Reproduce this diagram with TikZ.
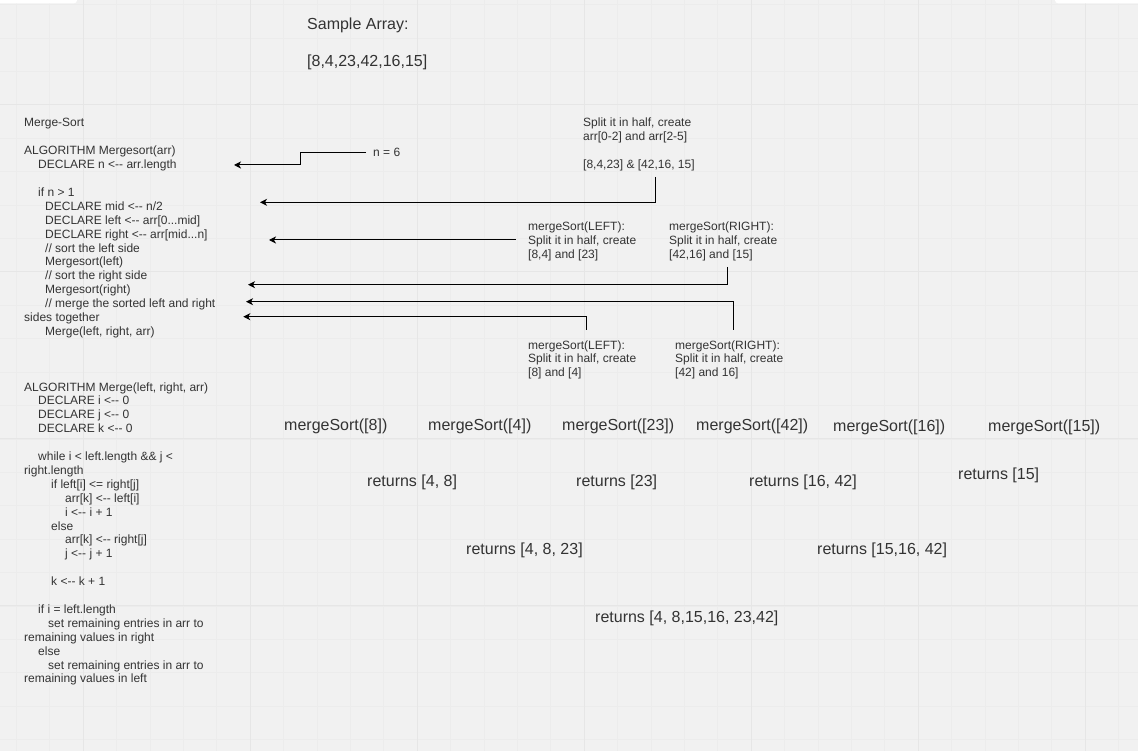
\documentclass[tikz,border=0pt]{standalone}
\usepackage{fontspec}
\setmainfont{Liberation Sans}
\usetikzlibrary{arrows.meta}
\definecolor{canvas}{RGB}{241,241,241}
\definecolor{gridminor}{RGB}{236,236,236}
\definecolor{gridmajor}{RGB}{230,230,230}
\definecolor{ink}{RGB}{51,51,51}
\newcommand{\asg}{<-{}-}
\newcommand{\txtlines}[1]{\begin{tabular}[t]{@{}l@{}}#1\end{tabular}}
\begin{document}
\begin{tikzpicture}[
  x=1pt, y=-1pt,
  every node/.style={inner sep=0pt, anchor=base west, text=ink},
  small/.style={font=\fontsize{12}{13.9}\selectfont},
  big/.style={font=\fontsize{16}{19}\selectfont},
  flow/.style={draw=black, line width=1pt, -{Stealth[length=7pt, width=7pt, inset=2pt]}}
]
  % canvas and grid
  \clip (0,0) rectangle (1138,751);
  \fill[canvas] (0,0) rectangle (1138,751);
  \foreach \k in {0,...,33}
    \draw[gridminor, line width=1pt] ({16.5+33.4*\k},0) -- ({16.5+33.4*\k},751);
  \foreach \k in {0,...,22}
    \draw[gridminor, line width=1pt] (0,{4.8+33.4*\k}) -- (1138,{4.8+33.4*\k});
  \foreach \k in {0,...,6}
    \draw[gridmajor, line width=1pt] ({83.3+167*\k},0) -- ({83.3+167*\k},751);
  \foreach \k in {0,...,3}
    \draw[gridmajor, line width=1pt] (0,{104.5+167*\k}) -- (1138,{104.5+167*\k});
  \fill[white, rounded corners=3pt] (-10,-10) rectangle (77,3.3);
  \fill[white, rounded corners=3pt] (1055,-10) rectangle (1150,3.3);

  % sample input
  \node[big] (title) at (307,29.7) {Sample Array:};
  \node[big] (sample) at (307,66.7) {[8,4,23,42,16,15]};

  % pseudocode
  \node[small] (pseudo) at (24,127) {\txtlines{%
    Merge-Sort\\
    \\
    ALGORITHM Mergesort(arr)\\
    \hspace*{14pt}DECLARE n \asg{} arr.length\\
    \\
    \hspace*{14pt}if n > 1\\
    \hspace*{21pt}DECLARE mid \asg{} n/2\\
    \hspace*{21pt}DECLARE left \asg{} arr[0...mid]\\
    \hspace*{21pt}DECLARE right \asg{} arr[mid...n]\\
    \hspace*{21pt}// sort the left side\\
    \hspace*{21pt}Mergesort(left)\\
    \hspace*{21pt}// sort the right side\\
    \hspace*{21pt}Mergesort(right)\\
    \hspace*{21pt}// merge the sorted left and right\\
    sides together\\
    \hspace*{21pt}Merge(left, right, arr)\\
    \\
    \\
    \\
    ALGORITHM Merge(left, right, arr)\\
    \hspace*{14pt}DECLARE i \asg{} 0\\
    \hspace*{14pt}DECLARE j \asg{} 0\\
    \hspace*{14pt}DECLARE k \asg{} 0\\
    \\
    \hspace*{14pt}while i < left.length \&\& j <\\
    right.length\\
    \hspace*{27pt}if left[i] <= right[j]\\
    \hspace*{41pt}arr[k] \asg{} left[i]\\
    \hspace*{41pt}i \asg{} i + 1\\
    \hspace*{27pt}else\\
    \hspace*{41pt}arr[k] \asg{} right[j]\\
    \hspace*{41pt}j \asg{} j + 1\\
    \\
    \hspace*{27pt}k \asg{} k + 1\\
    \\
    \hspace*{14pt}if i = left.length\\
    \hspace*{24pt}set remaining entries in arr to\\
    remaining values in right\\
    \hspace*{14pt}else\\
    \hspace*{24pt}set remaining entries in arr to\\
    remaining values in left}};

  % notes on the split steps
  \node[small] (nsize) at (373,156.3) {n = 6};
  \node[small] (split) at (583,126.8) {\txtlines{%
    Split it in half, create\\
    arr[0-2] and arr[2-5]\\
    \\
    {[}8,4,23] \& [42,16, 15]}};
  \node[small] (leftA) at (528,230.5) {\txtlines{%
    mergeSort(LEFT):\\
    Split it in half, create\\
    {[}8,4] and [23]}};
  \node[small] (rightA) at (669,230.5) {\txtlines{%
    mergeSort(RIGHT):\\
    Split it in half, create\\
    {[}42,16] and [15]}};
  \node[small] (leftB) at (528,349) {\txtlines{%
    mergeSort(LEFT):\\
    Split it in half, create\\
    {[}8] and [4]}};
  \node[small] (rightB) at (675,349) {\txtlines{%
    mergeSort(RIGHT):\\
    Split it in half, create\\
    {[}42] and 16]}};

  % single element calls
  \node[big] (ms8) at (284,430.7) {mergeSort([8])};
  \node[big] (ms4) at (428,430.7) {mergeSort([4])};
  \node[big] (ms23) at (562,430.7) {mergeSort([23])};
  \node[big] (ms42) at (696,430.7) {mergeSort([42])};
  \node[big] (ms16) at (833,431.7) {mergeSort([16])};
  \node[big] (ms15) at (988,431.7) {mergeSort([15])};

  % merged results
  \node[big] (ret48) at (367,486.7) {returns [4, 8]};
  \node[big] (ret23) at (576,486.7) {returns [23]};
  \node[big] (ret1642) at (749,486.7) {returns [16, 42]};
  \node[big] (ret15) at (958,479.7) {returns [15]};
  \node[big] (ret4823) at (466,554.7) {returns [4, 8, 23]};
  \node[big] (ret151642) at (817,554.7) {returns [15,16, 42]};
  \node[big] (retall) at (595,622.7) {returns [4, 8,15,16, 23,42]};

  % arrows into the pseudocode
  \coordinate (tipA) at (234,165);
  \coordinate (tipB) at (260,202.3);
  \coordinate (tipC) at (269,240);
  \coordinate (tipD) at (248,284.7);
  \coordinate (tipE) at (246,301.7);
  \coordinate (tipF) at (243.3,316.7);
  \coordinate (fromB) at (655,177);
  \coordinate (fromC) at (516,240);
  \coordinate (fromD) at (727,267);
  \coordinate (fromE) at (733,330);
  \coordinate (fromF) at (586,330);

  \draw[flow] ([xshift=-7pt]nsize.west) -- ++(-66,0) |- (tipA);
  \draw[flow] (fromB) |- (tipB);
  \draw[flow] (fromC) -- (tipC);
  \draw[flow] (fromD) |- (tipD);
  \draw[flow] (fromE) |- (tipE);
  \draw[flow] (fromF) |- (tipF);
\end{tikzpicture}
\end{document}
